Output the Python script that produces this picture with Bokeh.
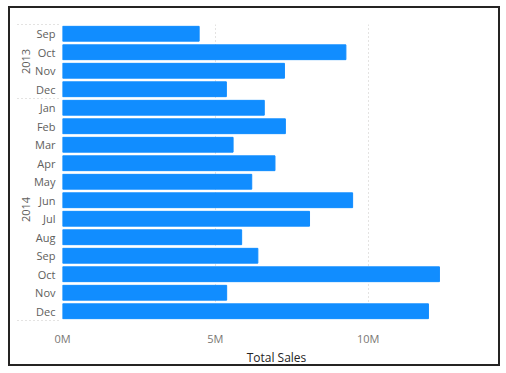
from bokeh.plotting import figure
from bokeh.models import Range1d, FixedTicker, LinearAxis
from bokeh.embed import file_html
from bokeh.resources import INLINE

# ---- data (top to bottom as in the chart) ----
years = ["2013", "2013", "2013", "2013",
         "2014", "2014", "2014", "2014", "2014", "2014",
         "2014", "2014", "2014", "2014", "2014", "2014"]
months = ["Sep", "Oct", "Nov", "Dec",
          "Jan", "Feb", "Mar", "Apr", "May", "Jun",
          "Jul", "Aug", "Sep", "Oct", "Nov", "Dec"]
sales_millions = [4.47, 9.27, 7.26, 5.36,
                  6.60, 7.29, 5.58, 6.95, 6.19, 9.49,
                  8.08, 5.86, 6.39, 12.33, 5.37, 11.97]
x_ticks = [0, 5_000_000, 10_000_000]
x_tick_labels = ["0M", "5M", "10M"]

n = len(months)
rows = [i + 0.5 for i in range(n)]                 # category slots, top to bottom
values = [v * 1_000_000 for v in sales_millions]

# year groups: edges and centres derived from the year column
group_names, group_edges = [], [0]
for i, y in enumerate(years):
    if not group_names or group_names[-1] != y:
        if group_names:
            group_edges.append(i)
        group_names.append(y)
group_edges.append(n)
group_centres = [(a + b) / 2 for a, b in zip(group_edges[:-1], group_edges[1:])]

FONT = "Open Sans"
GREY = "#605E5C"
DARK = "#252423"
BAR = "#118DFF"
SEP = "#C8C6C4"

W, H = 492, 360
p = figure(width=W, height=H, y_range=Range1d(n, 0), x_range=Range1d(0, 14_000_000),
           output_backend="svg", toolbar_location=None,
           min_border_left=52, min_border_right=12, min_border_top=16, min_border_bottom=39)
p.margin = (6, 0, 0, 8)
p.styles = {"border": "2px solid #252423"}

p.hbar(y=rows, right=values, height=0.8, fill_color=BAR, line_color=BAR)

p.outline_line_color = None
p.background_fill_color = "white"
p.border_fill_color = "white"

# x axis
xa = p.xaxis[0]
xa.ticker = FixedTicker(ticks=x_ticks)
xa.major_label_overrides = {t: l for t, l in zip(x_ticks, x_tick_labels)}
xa.axis_line_color = None
xa.major_tick_line_color = None
xa.minor_tick_line_color = None
xa.major_tick_out = 0
xa.major_label_standoff = 10
xa.major_label_text_font = FONT
xa.major_label_text_font_size = "11px"
xa.major_label_text_color = "#7A7774"
xa.axis_label = "Total Sales"
xa.axis_label_text_font = FONT
xa.axis_label_text_font_size = "12px"
xa.axis_label_text_font_style = "normal"
xa.axis_label_text_color = DARK
xa.axis_label_standoff = 0

# y axis: month labels; minor ticks at the year-group edges act as dotted separators
ya = p.yaxis[0]
ya.ticker = FixedTicker(ticks=rows, minor_ticks=group_edges)
ya.major_label_overrides = {r: m for r, m in zip(rows, months)}
ya.axis_line_color = None
ya.major_tick_line_color = None
ya.major_tick_out = 0
ya.major_tick_in = 0
ya.minor_tick_line_color = SEP
ya.minor_tick_line_dash = "1 3"
ya.minor_tick_line_width = 1
ya.minor_tick_out = 45
ya.minor_tick_in = -2
ya.major_label_standoff = -38
ya.major_label_text_font = FONT
ya.major_label_text_font_size = "11px"
ya.major_label_text_color = GREY

# outer y axis: year group labels, rotated
year_axis = LinearAxis(ticker=FixedTicker(ticks=group_centres, minor_ticks=[]),
                       major_label_overrides={c: g for c, g in zip(group_centres, group_names)},
                       major_label_orientation="vertical",
                       major_label_standoff=1,
                       major_label_text_font=FONT, major_label_text_font_size="11px",
                       major_label_text_color=GREY,
                       axis_line_color=None, major_tick_line_color=None,
                       minor_tick_line_color=None, major_tick_out=0, major_tick_in=0)
p.add_layout(year_axis, "left")

# grid
p.ygrid.grid_line_color = None
p.xgrid.grid_line_color = SEP
p.xgrid.grid_line_dash = "1 3"
p.xgrid.grid_line_width = 1

open("out.html", "w").write(file_html(p, INLINE))
